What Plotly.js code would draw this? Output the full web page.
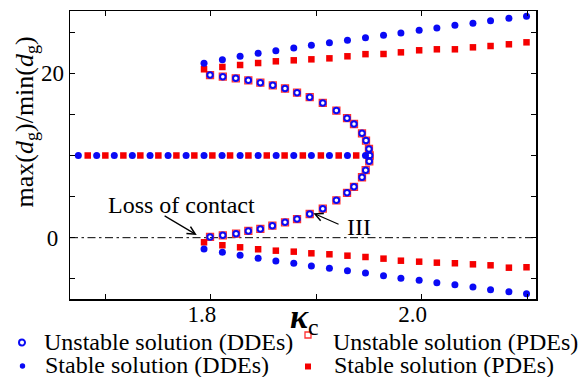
<!DOCTYPE html>
<html>
<head>
<meta charset="utf-8">
<script src="https://cdn.plot.ly/plotly-3.0.1.min.js"></script>
<style>html,body{margin:0;padding:0;background:#fff}#chart{width:585px;height:377px}</style>
</head>
<body>
<div id="chart"></div>
<script>
// ---- data ----
const xBranch = [1.7936, 1.8110, 1.8278, 1.8449, 1.8617, 1.8787, 1.8954, 1.9125, 1.9296, 1.9467, 1.9638, 1.9803, 1.9976, 2.0144, 2.0315, 2.0486, 2.0653, 2.0827, 2.0994];
const yUpperDDE = [21.22, 21.65, 22.07, 22.43, 22.75, 23.08, 23.41, 23.72, 24.01, 24.33, 24.62, 24.90, 25.23, 25.51, 25.84, 26.08, 26.40, 26.69, 26.93];
const yLowerDDE = [-1.37, -1.78, -2.14, -2.51, -2.84, -3.12, -3.45, -3.72, -4.01, -4.29, -4.62, -4.94, -5.18, -5.47, -5.72, -6.00, -6.33, -6.57, -6.81];
const yUpperPDE = [20.49, 20.77, 21.01, 21.25, 21.46, 21.58, 21.70, 21.82, 22.07, 22.33, 22.35, 22.55, 22.80, 22.92, 22.92, 23.16, 23.32, 23.53, 23.77];
const yLowerPDE = [-0.56, -0.92, -1.17, -1.41, -1.58, -1.70, -1.90, -2.02, -2.19, -2.35, -2.55, -2.80, -2.92, -3.04, -3.11, -3.24, -3.36, -3.65, -3.60];
const xFlatDDE = [1.6744, 1.6918, 1.7085, 1.7256, 1.7424, 1.7595, 1.7766, 1.7936, 1.8107, 1.8278, 1.8449, 1.8620, 1.8787, 1.8954, 1.9125, 1.9296, 1.9467];
const yFlatDDE = [10, 10, 10, 10, 10, 10, 10, 10, 10, 10, 10, 10, 10, 10, 10, 10, 10];
const xFlatPDE = [1.6833, 1.7000, 1.7171, 1.7332, 1.7503, 1.7674, 1.7844, 1.8015, 1.8183, 1.8357, 1.8531, 1.8700, 1.8873, 1.9044, 1.9213, 1.9379];
const yFlatPDE = [10, 10, 10, 10, 10, 10, 10, 10, 10, 10, 10, 10, 10, 10, 10, 10];
const xUnstable = [1.7993, 1.8114, 1.8237, 1.8356, 1.8470, 1.8588, 1.8704, 1.8818, 1.8938, 1.9062, 1.9191, 1.9292, 1.9358, 1.9434, 1.9472, 1.9500, 1.9507, 1.9503, 1.9469, 1.9434, 1.9358, 1.9292, 1.9191, 1.9062, 1.8938, 1.8818, 1.8704, 1.8584, 1.8470, 1.8356, 1.8240, 1.8114, 1.7993];
const yUnstable = [19.79, 19.59, 19.39, 19.15, 18.86, 18.54, 18.15, 17.64, 17.09, 16.39, 15.47, 14.54, 13.83, 12.70, 11.82, 10.79, 10.00, 9.29, 8.21, 7.35, 6.19, 5.46, 4.55, 3.53, 2.88, 2.27, 1.87, 1.46, 1.06, 0.82, 0.49, 0.29, 0.09];
const xTickVals = [1.7, 1.8, 1.9, 2.0, 2.1];
const xTickText = ['', '1.8', '', '2.0', ''];
const yTickVals = [-5, 0, 5, 10, 15, 20, 25];
const yTickText = ['', '0\u00a0', '', '', '', '20', ''];
const seriesNames = ['Unstable solution (DDEs)', 'Stable solution (DDEs)', 'Unstable solution (PDEs)', 'Stable solution (PDEs)'];

// ---- styling ----
const BLUE = '#0a0af5';
const RED = '#f50000';
const FONT = 'Liberation Serif, Times New Roman, serif';
const M = {l: 70, r: 49, t: 11, b: 78};
const W = 585, H = 377;
const pw = W - M.l - M.r, ph = H - M.t - M.b;
const px2x = p => (p - M.l) / pw;
const px2y = p => (H - M.b - p) / ph;

const traces = [
  {x: xUnstable, y: yUnstable, mode: 'markers', name: seriesNames[2], showlegend: false,
   marker: {symbol: 'square-open', size: 7, color: '#ff3030', line: {width: 1.3, color: '#ff3030'}}},
  {x: xFlatPDE.concat(xBranch, xBranch), y: yFlatPDE.concat(yUpperPDE, yLowerPDE), mode: 'markers', name: seriesNames[3], showlegend: false,
   marker: {symbol: 'square', size: 6.5, color: RED}},
  {x: xFlatDDE.concat(xBranch, xBranch), y: yFlatDDE.concat(yUpperDDE, yLowerDDE), mode: 'markers', name: seriesNames[1], showlegend: false,
   marker: {symbol: 'circle', size: 7, color: BLUE}},
  {x: xUnstable, y: yUnstable, mode: 'markers', name: seriesNames[0], showlegend: false,
   marker: {symbol: 'circle-open', size: 5.5, color: BLUE, line: {width: 2, color: BLUE}}}
];

const axisCommon = {showline: true, mirror: 'ticks', linecolor: '#000', linewidth: 1.5,
  ticks: 'inside', ticklen: 5, tickwidth: 1.2, tickcolor: '#000', showgrid: false, zeroline: false,
  tickfont: {family: FONT, size: 23, color: '#000'}};

const legendItems = [
  {px: 22, py: 342.5, tx: 42, ty: 342, shape: 'circle', open: true, color: BLUE, text: seriesNames[0]},
  {px: 22.5, py: 366, tx: 43, ty: 364.7, shape: 'circle', open: false, color: BLUE, text: seriesNames[1]},
  {px: 308, py: 335, tx: 330.5, ty: 342, shape: 'rect', open: true, color: '#ff3030', text: seriesNames[2]},
  {px: 308, py: 366.5, tx: 332, ty: 364.7, shape: 'rect', open: false, color: RED, text: seriesNames[3]}
];

const shapes = [
  {type: 'line', xref: 'paper', yref: 'y', x0: 0, x1: 1, y0: 0, y1: 0, layer: 'below',
   line: {color: '#000', width: 1, dash: '8px,3.5px,2.5px,3.5px'}}
];
const annotations = [
  {x: 1.7718, y: 3.98, xref: 'x', yref: 'y', text: 'Loss of contact', showarrow: false,
   font: {family: FONT, size: 24, color: '#000'}},
  {x: 1.7867, y: 0.33, ax: 1.7548, ay: 2.76, xref: 'x', yref: 'y', axref: 'x', ayref: 'y', text: '',
   showarrow: true, arrowhead: 5, arrowsize: 1.3, arrowwidth: 1.2, arrowcolor: '#000'},
  {x: 1.9406, y: 1.36, xref: 'x', yref: 'y', text: 'III', showarrow: false,
   font: {family: FONT, size: 24, color: '#000'}},
  {x: 1.8973, y: 2.97, ax: 1.9226, ay: 1.55, xref: 'x', yref: 'y', axref: 'x', ayref: 'y', text: '',
   showarrow: true, arrowhead: 5, arrowsize: 1.3, arrowwidth: 1.2, arrowcolor: '#000'},
  {x: px2x(25), y: px2y(122.5), xref: 'paper', yref: 'paper', xanchor: 'center', yanchor: 'middle', textangle: -90, showarrow: false,
   text: 'max(<i>d</i><sub>g</sub>)/min(<i>d</i><sub>g</sub>)', font: {family: FONT, size: 26, color: '#000'}},
  {x: px2x(304), y: px2y(296), xref: 'paper', yref: 'paper', xanchor: 'center', yanchor: 'top', showarrow: false,
   text: '<b><i>κ</i></b><sub>c</sub>', font: {family: FONT, size: 34, color: '#000'}}
];
legendItems.forEach(it => {
  const s = it.shape === 'circle' ? (it.open ? 3 : 2.7) : 3;
  shapes.push({type: it.shape, xref: 'paper', yref: 'paper', xsizemode: 'pixel', ysizemode: 'pixel',
    xanchor: px2x(it.px), yanchor: px2y(it.py), x0: -s, x1: s, y0: -s, y1: s,
    fillcolor: it.open ? 'rgba(0,0,0,0)' : it.color,
    line: {color: it.color, width: it.open ? (it.shape === 'circle' ? 2 : 1.3) : 0}});
  annotations.push({x: px2x(it.tx), y: px2y(it.ty), xref: 'paper', yref: 'paper', xanchor: 'left', yanchor: 'middle',
    showarrow: false, text: it.text, font: {family: FONT, size: 24, color: '#000'}});
});

const layout = {
  width: W, height: H, margin: M, paper_bgcolor: '#fff', plot_bgcolor: '#fff',
  showlegend: false,
  font: {family: FONT, color: '#000'},
  xaxis: Object.assign({}, axisCommon, {range: [1.6665, 2.1084], tickvals: xTickVals, ticktext: xTickText, ticklabelshift: -9, ticklabelstandoff: -6}),
  yaxis: Object.assign({}, axisCommon, {range: [-7.46, 27.58], tickvals: yTickVals, ticktext: yTickText}),
  shapes: shapes,
  annotations: annotations
};

Plotly.newPlot('chart', traces, layout, {staticPlot: true});
</script>
</body>
</html>
